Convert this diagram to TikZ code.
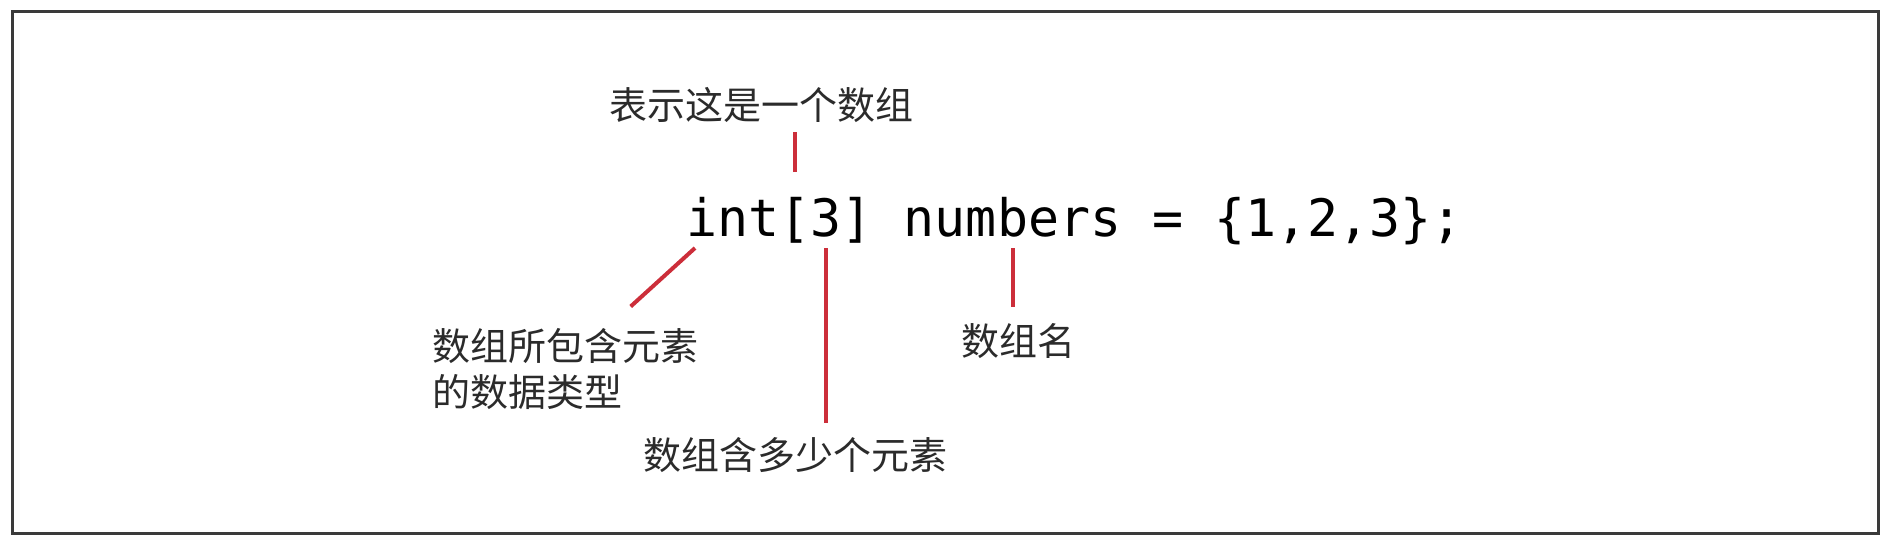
\documentclass[tikz,border=0pt]{standalone}
\usepackage{fontspec}
\usepackage{xcolor}
\definecolor{markred}{HTML}{CC2E3A}
\definecolor{framegray}{HTML}{3A3A3A}
\definecolor{labelgray}{HTML}{2B2B2B}
\setmonofont{DejaVu Sans Mono}
\newfontfamily\cjk{Noto Sans CJK SC}
\usetikzlibrary{positioning,calc}

\begin{document}
\begin{tikzpicture}[x=0.5pt,y=-0.5pt,
  marker/.style={markred,line width=2pt},
  codetext/.style={inner sep=0pt,font=\ttfamily\fontsize{25.8pt}{30pt}\selectfont},
  cnlabel/.style={inner sep=0pt,text=labelgray,align=left,font=\cjk\fontsize{19pt}{23pt}\selectfont}]
  \useasboundingbox (0,0) rectangle (1894,548);
  % Frame
  \draw[framegray,line width=1.5pt] (12,11) rectangle (1878,533);
  % Code line
  \node[codetext,anchor=base west] (code) at (686,236) {int[3] numbers = \{1,2,3\};};
  \path (code.base west) ++(9,12)     coordinate (c-int);
  \path (code.base west) ++(108.9,-64) coordinate (c-open);
  \path (code.base west) ++(139.9,12)  coordinate (c-three);
  \path (code.base west) ++(326.5,12)  coordinate (c-name);
  % Labels
  \node[cnlabel] (arr) at (761,105) {表示这是一个数组};
  \node[cnlabel,anchor=north west] (type) at (432,328) {数组所包含元素\\的数据类型};
  \node[cnlabel] (size) at (795,455) {数组含多少个元素};
  \node[cnlabel] (name) at (1018,341) {数组名};
  \path (type.north west) ++(175,0) coordinate (type-top);
  % Connectors
  \draw[marker,shorten >=4.5pt] (c-open) -- (c-open |- arr.south);
  \draw[marker,shorten >=16pt] (c-int) -- (type-top);
  \draw[marker,shorten >=7pt] (c-three) -- (c-three |- size.north);
  \draw[marker,shorten >=8pt] (c-name) -- (c-name |- name.north);
\end{tikzpicture}
\end{document}
